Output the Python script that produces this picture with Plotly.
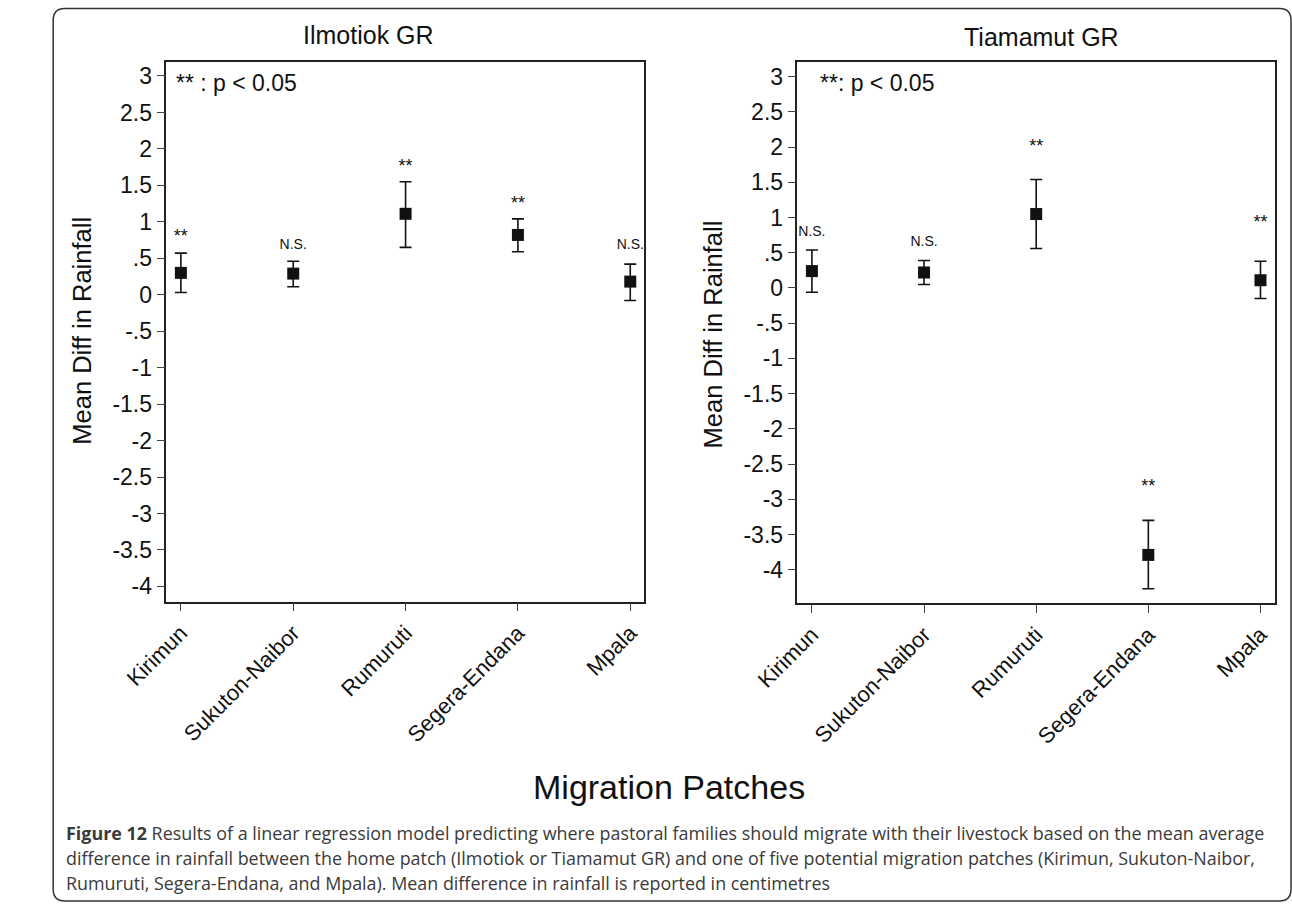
import plotly.graph_objects as go

# ---------------- data ----------------
patches = ["Kirimun", "Sukuton-Naibor", "Rumuruti", "Segera-Endana", "Mpala"]

ilm_mean = [0.30, 0.29, 1.11, 0.82, 0.18]
ilm_lo = [0.03, 0.11, 0.65, 0.59, -0.08]
ilm_hi = [0.57, 0.46, 1.55, 1.04, 0.42]
ilm_sig = ["**", "N.S.", "**", "**", "N.S."]
ilm_sig_y = [0.79, 0.67, 1.74, 1.24, 0.67]

tia_mean = [0.24, 0.22, 1.05, -3.79, 0.11]
tia_lo = [-0.06, 0.05, 0.56, -4.27, -0.15]
tia_hi = [0.54, 0.39, 1.54, -3.30, 0.38]
tia_sig = ["N.S.", "N.S.", "**", "**", "**"]
tia_sig_y = [0.79, 0.65, 2.00, -2.83, 0.91]

ytick_vals = [3, 2.5, 2, 1.5, 1, 0.5, 0, -0.5, -1, -1.5, -2, -2.5, -3, -3.5, -4]
ytick_text = ["3", "2.5", "2", "1.5", "1", ".5", "0", "-.5", "-1", "-1.5", "-2",
              "-2.5", "-3", "-3.5", "-4"]

caption_lines = [
    "<b>Figure 12</b> Results of a linear regression model predicting where pastoral families should migrate with their livestock based on the mean average",
    "difference in rainfall between the home patch (Ilmotiok or Tiamamut GR) and one of five potential migration patches (Kirimun, Sukuton-Naibor,",
    "Rumuruti, Segera-Endana, and Mpala). Mean difference in rainfall is reported in centimetres",
]

# ---------------- layout helpers ----------------
W, H = 1292, 904
def px(x):
    return x / W
def py(y):
    return 1 - y / H

FONT = "Liberation Sans, Arial, sans-serif"
INK = "#111111"

fig = go.Figure()

def add_panel(xa, ya, mean, lo, hi, sig, sig_y):
    err_plus = [h - m for h, m in zip(hi, mean)]
    err_minus = [m - l for m, l in zip(mean, lo)]
    fig.add_trace(go.Scatter(
        x=patches, y=mean, mode="markers", xaxis=xa, yaxis=ya,
        marker=dict(symbol="square", size=12, color=INK),
        error_y=dict(type="data", array=err_plus, arrayminus=err_minus,
                     color=INK, thickness=1.6, width=6),
        showlegend=False, cliponaxis=False,
    ))
    fig.add_trace(go.Scatter(
        x=patches, y=sig_y, mode="text", text=sig, xaxis=xa, yaxis=ya,
        textfont=dict(family=FONT, color=INK,
                      size=[18 if s == "**" else 14 for s in sig]),
        showlegend=False, cliponaxis=True,
    ))

add_panel("x", "y", ilm_mean, ilm_lo, ilm_hi, ilm_sig, ilm_sig_y)
add_panel("x2", "y2", tia_mean, tia_lo, tia_hi, tia_sig, tia_sig_y)

axis_common = dict(
    showline=True, linecolor="#222222", linewidth=1.5, mirror=True,
    showgrid=False, zeroline=False, ticks="outside", ticklen=8,
    tickcolor="#444444", tickwidth=1.2,
)

xcommon = dict(axis_common, type="category", categoryorder="array",
               categoryarray=patches, tickangle=-45,
               tickfont=dict(family=FONT, size=22, color=INK))
ycommon = dict(axis_common, tickvals=ytick_vals, ticktext=ytick_text,
               tickfont=dict(family=FONT, size=23, color=INK))

fig.update_layout(
    width=W, height=H,
    margin=dict(l=0, r=0, t=0, b=0),
    paper_bgcolor="white", plot_bgcolor="white",
    xaxis=dict(xcommon, domain=[px(126.7), px(621)], range=[-0.129, 4.121], anchor="y"),
    yaxis=dict(ycommon, domain=[py(601.7), py(61.7)], range=[-4.21, 3.196], anchor="x"),
    xaxis2=dict(xcommon, domain=[px(780), px(1274)], range=[-0.129, 4.126], anchor="y2"),
    yaxis2=dict(ycommon, domain=[py(603.3), py(61.7)], range=[-4.477, 3.213], anchor="x2"),
)

ann = []
def text(x, y, s, size, xanchor="center", yanchor="middle", angle=0, color=INK, family=FONT):
    ann.append(dict(x=px(x), y=py(y), xref="paper", yref="paper", text=s,
                    showarrow=False, xanchor=xanchor, yanchor=yanchor,
                    textangle=angle, font=dict(family=family, size=size, color=color)))

text(336, 35, "Ilmotiok GR", 25)
text(1033, 37, "Tiamamut GR", 25)
text(135, 83, "** : p < 0.05", 23, xanchor="left")
text(801, 83, "**: p < 0.05", 23, xanchor="left")
text(39, 331, "Mean Diff in Rainfall", 25.5, angle=-90)
text(693, 334, "Mean Diff in Rainfall", 25.5, angle=-90)
text(647, 787, "Migration Patches", 34)
for i, line in enumerate(caption_lines):
    text(21, 833 + 25 * i, line, 17.9, xanchor="left", color="#3a3a3a",
         family="Open Sans, sans-serif")

fig.update_layout(annotations=ann)

# rounded figure border
x0, y0, x1, y1, r = 9.5, 8.5, 1291, 901, 12
path = (f"M {px(x0 + r)},{py(y0)} L {px(x1 - r)},{py(y0)} "
        f"Q {px(x1)},{py(y0)} {px(x1)},{py(y0 + r)} "
        f"L {px(x1)},{py(y1 - r)} Q {px(x1)},{py(y1)} {px(x1 - r)},{py(y1)} "
        f"L {px(x0 + r)},{py(y1)} Q {px(x0)},{py(y1)} {px(x0)},{py(y1 - r)} "
        f"L {px(x0)},{py(y0 + r)} Q {px(x0)},{py(y0)} {px(x0 + r)},{py(y0)} Z")
fig.add_shape(type="path", path=path, xref="paper", yref="paper",
              line=dict(color="#333333", width=1.5))

fig.write_html("out.html")
